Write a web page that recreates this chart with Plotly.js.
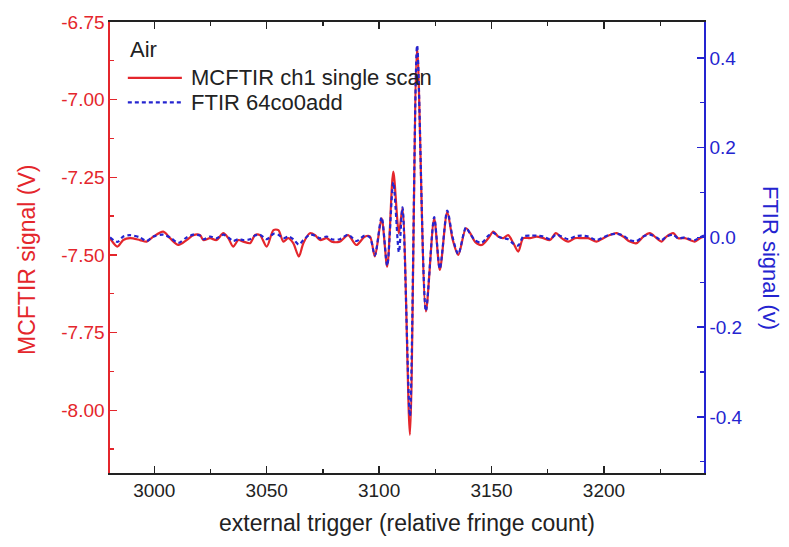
<!DOCTYPE html>
<html>
<head>
<meta charset="utf-8">
<script src="https://cdn.plot.ly/plotly-3.0.1.min.js"></script>
<style>
html,body{margin:0;padding:0;background:#fff;}
#chart{width:789px;height:547px;}
</style>
</head>
<body>
<div id="chart"></div>
<script>
// fringe count (x)
var fringe = [2980.3, 2983.6, 2986.2, 2989.2, 2993.6, 2996.6, 2999.6, 3004.0, 3007.0, 3010.7,
  3014.4, 3017.4, 3020.3, 3021.8, 3024.8, 3027.7, 3030.7, 3032.9, 3035.1, 3037.4,
  3039.6, 3042.6, 3044.8, 3047.0, 3050.0, 3053.0, 3055.2, 3057.4, 3059.6, 3061.8,
  3064.3, 3066.3, 3069.2, 3071.5, 3073.7, 3076.7, 3078.9, 3082.5, 3086.2, 3089.9,
  3093.6, 3095.9, 3098.1, 3101.1, 3103.6, 3106.3, 3108.8, 3110.4, 3113.7, 3116.9,
  3120.8, 3124.5, 3127.0, 3130.3, 3132.7, 3135.2, 3138.6, 3140.5, 3142.6, 3145.6,
  3148.6, 3150.8, 3153.0, 3155.2, 3157.4, 3159.7, 3161.9, 3164.1, 3167.1, 3170.0,
  3173.0, 3176.0, 3178.6, 3181.2, 3184.1, 3187.1, 3190.0, 3193.0, 3196.7, 3199.7,
  3202.6, 3205.6, 3208.6, 3211.5, 3214.5, 3217.5, 3220.4, 3223.4, 3225.6, 3227.8,
  3230.8, 3233.0, 3236.0, 3238.2, 3240.4, 3242.7, 3244.5];

// MCFTIR ch1 single scan (V), left axis
var mcftir = [-7.446, -7.473, -7.452, -7.446, -7.452, -7.457, -7.441, -7.425, -7.446, -7.468,
  -7.452, -7.436, -7.436, -7.452, -7.446, -7.452, -7.430, -7.446, -7.473, -7.452,
  -7.457, -7.462, -7.436, -7.436, -7.473, -7.420, -7.420, -7.457, -7.446, -7.462,
  -7.505, -7.462, -7.430, -7.436, -7.452, -7.446, -7.457, -7.457, -7.436, -7.468,
  -7.441, -7.440, -7.505, -7.382, -7.538, -7.232, -7.430, -7.350, -8.079, -6.830,
  -7.682, -7.382, -7.548, -7.361, -7.450, -7.500, -7.414, -7.430, -7.457, -7.468,
  -7.446, -7.425, -7.441, -7.446, -7.436, -7.462, -7.489, -7.446, -7.446, -7.441,
  -7.446, -7.452, -7.430, -7.446, -7.457, -7.446, -7.446, -7.446, -7.457, -7.446,
  -7.436, -7.430, -7.441, -7.457, -7.462, -7.441, -7.430, -7.446, -7.457, -7.441,
  -7.430, -7.446, -7.446, -7.452, -7.457, -7.446, -7.441];

// FTIR 64co0add (v), right axis
var ftir = [0.000, -0.010, 0.002, 0.005, 0.000, -0.008, 0.002, 0.006, 0.000, -0.012,
  0.000, 0.006, 0.004, -0.004, 0.002, -0.002, 0.006, 0.000, -0.008, -0.004,
  -0.006, -0.004, 0.004, 0.006, -0.004, 0.008, 0.006, -0.002, 0.002, -0.004,
  -0.016, -0.006, 0.006, 0.004, -0.002, 0.002, -0.004, -0.004, 0.006, -0.008,
  0.004, 0.000, -0.040, 0.045, -0.063, 0.123, -0.033, 0.067, -0.398, 0.428,
  -0.164, 0.045, -0.070, 0.060, 0.000, -0.037, 0.022, 0.008, -0.006, -0.012,
  0.004, 0.010, 0.002, -0.002, -0.004, -0.014, -0.018, 0.002, 0.004, 0.004,
  0.002, -0.004, 0.006, 0.002, -0.004, 0.002, 0.004, 0.002, -0.006, 0.000,
  0.006, 0.008, 0.004, -0.006, -0.008, 0.002, 0.006, 0.000, -0.006, 0.002,
  0.006, -0.002, 0.000, -0.004, -0.006, 0.000, 0.004];

var xTicks = [3000, 3050, 3100, 3150, 3200];
var yLeftTicks = [-8.00, -7.75, -7.50, -7.25, -7.00, -6.75];
var yRightTicks = [-0.4, -0.2, 0.0, 0.2, 0.4];

var RED = '#e4262c';
var BLUE = '#2424d0';
var FONT = 'Liberation Sans, Arial, sans-serif';

var traces = [
  {x: fringe, y: mcftir, type: 'scatter', mode: 'lines', name: 'MCFTIR ch1 single scan',
   line: {color: RED, width: 2.2, shape: 'spline', smoothing: 0.8}, yaxis: 'y', showlegend: false},
  {x: fringe, y: ftir, type: 'scatter', mode: 'lines', name: 'FTIR 64co0add',
   line: {color: BLUE, width: 2.2, dash: '4px,3px', shape: 'spline', smoothing: 0.8}, yaxis: 'y2', showlegend: false}
];

var layout = {
  width: 789, height: 547,
  margin: {l: 110, r: 85, t: 22, b: 74},
  paper_bgcolor: '#fff', plot_bgcolor: '#fff',
  font: {family: FONT, size: 19, color: '#222'},
  xaxis: {
    range: [2980.3, 3244.5],
    tickvals: xTicks, ticktext: xTicks.map(String),
    ticks: 'inside', ticklen: 7, tickwidth: 1.3, tickcolor: '#222',
    minor: {dtick: 25, tick0: 3000, ticks: 'inside', ticklen: 4, tickwidth: 1.3, tickcolor: '#222'},
    showline: true, linecolor: '#222', linewidth: 1.6, mirror: 'ticks',
    showgrid: false, zeroline: false,
    tickfont: {family: FONT, size: 19, color: '#222'},
    title: {text: 'external trigger (relative fringe count)', font: {family: FONT, size: 23, color: '#222'}, standoff: 14}
  },
  yaxis: {
    range: [-8.202, -6.75],
    tickvals: yLeftTicks, ticktext: yLeftTicks.map(function(v){return v.toFixed(2);}),
    ticks: 'inside', ticklen: 7, tickwidth: 1.3, tickcolor: RED,
    minor: {dtick: 0.125, tick0: -8, ticks: 'inside', ticklen: 4, tickwidth: 1.3, tickcolor: RED},
    showline: true, linecolor: RED, linewidth: 1.6,
    showgrid: false, zeroline: false,
    tickfont: {family: FONT, size: 19, color: RED}
  },
  yaxis2: {
    range: [-0.525, 0.48],
    overlaying: 'y', side: 'right',
    tickvals: yRightTicks, ticktext: yRightTicks.map(function(v){return v.toFixed(1);}),
    ticks: 'inside', ticklen: 7, tickwidth: 1.3, tickcolor: BLUE,
    minor: {dtick: 0.1, tick0: 0, ticks: 'inside', ticklen: 4, tickwidth: 1.3, tickcolor: BLUE},
    showline: true, linecolor: BLUE, linewidth: 1.6,
    showgrid: false, zeroline: false,
    tickfont: {family: FONT, size: 19, color: BLUE}
  },
  shapes: [
    {type: 'line', xref: 'paper', yref: 'paper', x0: 0.030, x1: 0.121, y0: 0.876, y1: 0.876,
     line: {color: RED, width: 2.2}},
    {type: 'line', xref: 'paper', yref: 'paper', x0: 0.030, x1: 0.121, y0: 0.822, y1: 0.822,
     line: {color: BLUE, width: 2.2, dash: '4px,3px'}}
  ],
  annotations: [
    {xref: 'paper', yref: 'paper', x: 0.030, y: 0.938, xanchor: 'left', yanchor: 'middle', showarrow: false,
     text: 'Air', font: {family: FONT, size: 22, color: '#222'}},
    {xref: 'paper', yref: 'paper', x: 0.133, y: 0.876, xanchor: 'left', yanchor: 'middle', showarrow: false,
     text: 'MCFTIR ch1 single scan', font: {family: FONT, size: 22, color: '#222'}},
    {xref: 'paper', yref: 'paper', x: 0.133, y: 0.822, xanchor: 'left', yanchor: 'middle', showarrow: false,
     text: 'FTIR 64co0add', font: {family: FONT, size: 22, color: '#222'}},
    {xref: 'paper', yref: 'paper', x: -0.140, y: 0.472, xanchor: 'center', yanchor: 'middle', showarrow: false,
     textangle: -90, text: 'MCFTIR signal (V)', font: {family: FONT, size: 23, color: RED}},
    {xref: 'paper', yref: 'paper', x: 1.111, y: 0.477, xanchor: 'center', yanchor: 'middle', showarrow: false,
     textangle: 90, text: 'FTIR signal (v)', font: {family: FONT, size: 22, color: BLUE}}
  ]
};

Plotly.newPlot('chart', traces, layout, {displayModeBar: false, staticPlot: true});
</script>
</body>
</html>
